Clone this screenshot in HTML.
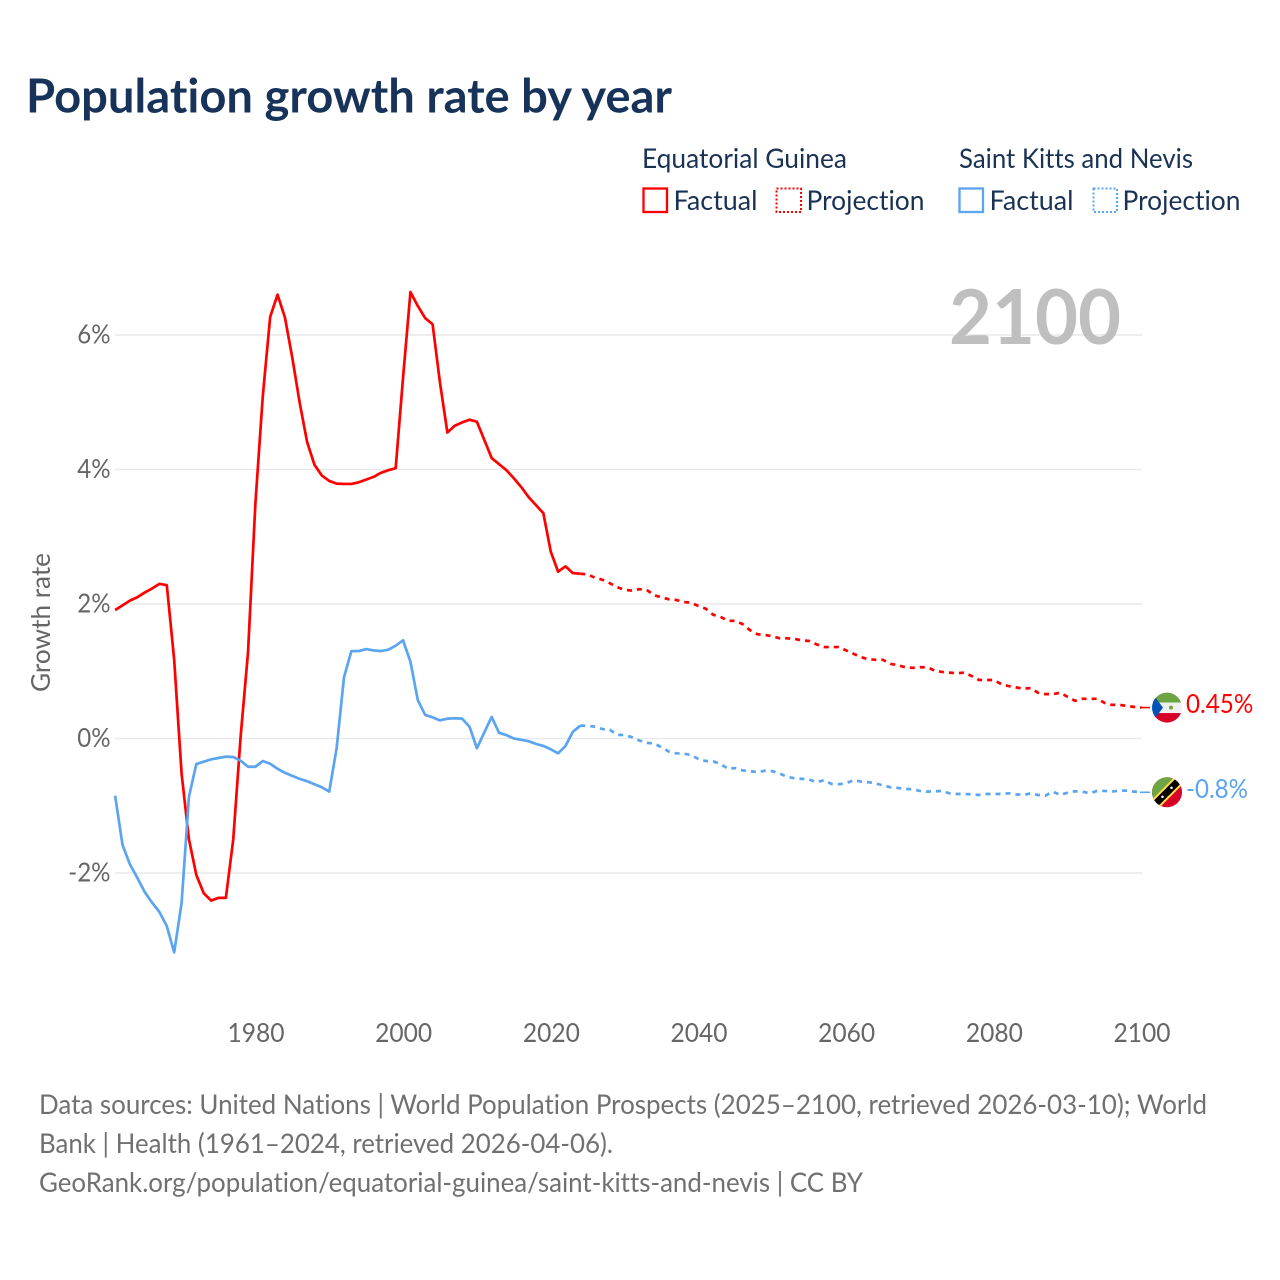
<!DOCTYPE html>
<html lang="en">
<head>
<meta charset="utf-8">
<title>Population growth rate by year</title>
<style>
html,body{margin:0;padding:0;background:#fff;}
svg{display:block;}
text{font-family:"Lato","Carlito","Liberation Sans",sans-serif;font-variant-ligatures:none;font-feature-settings:"liga" 0,"clig" 0;}
</style>
</head>
<body>
<svg id="chart" xmlns="http://www.w3.org/2000/svg" width="1280" height="1280" viewBox="0 0 1280 1280">
  <rect width="1280" height="1280" fill="#fff"/>
  <text x="26" y="112.5" font-size="47" font-weight="700" fill="#17335a" textLength="646" lengthAdjust="spacingAndGlyphs">Population growth rate by year</text>

  <g font-size="27" fill="#1a3355">
    <text x="642" y="168" textLength="205" lengthAdjust="spacingAndGlyphs">Equatorial Guinea</text>
    <text x="959" y="168" textLength="234" lengthAdjust="spacingAndGlyphs">Saint Kitts and Nevis</text>
    <rect x="643.5" y="188.5" width="23.5" height="23.5" fill="none" stroke="#ff0000" stroke-width="2.3"/>
    <text x="673.5" y="210" textLength="84" lengthAdjust="spacingAndGlyphs">Factual</text>
    <rect x="776.5" y="188.5" width="24.5" height="23.5" fill="none" stroke="#ff0000" stroke-width="2" stroke-dasharray="2 2"/>
    <text x="806.5" y="210" textLength="118" lengthAdjust="spacingAndGlyphs">Projection</text>
    <rect x="959.5" y="188.5" width="23.5" height="23.5" fill="none" stroke="#5ba4ef" stroke-width="2.3"/>
    <text x="989.5" y="210" textLength="84" lengthAdjust="spacingAndGlyphs">Factual</text>
    <rect x="1093.5" y="188.5" width="23.5" height="23.5" fill="none" stroke="#5ba4ef" stroke-width="2" stroke-dasharray="2 2"/>
    <text x="1122.5" y="210" textLength="118" lengthAdjust="spacingAndGlyphs">Projection</text>
  </g>

  <g id="grid"></g>
  <text x="949" y="344" font-size="76" font-weight="700" fill="#bfbfbf" textLength="172" lengthAdjust="spacingAndGlyphs">2100</text>
  <text transform="translate(50 692) rotate(-90)" font-size="26" fill="#666" textLength="139" lengthAdjust="spacingAndGlyphs">Growth rate</text>
  <g id="yticks"></g>
  <g id="xticks"></g>
  <g id="series"></g>

  <defs>
    <clipPath id="flag-clip"><circle cx="0" cy="0" r="15"/></clipPath>
  </defs>
  <g id="flag-eg" clip-path="url(#flag-clip)">
    <rect x="-16" y="-16" width="32" height="11" fill="#6da544"/>
    <rect x="-16" y="-5" width="32" height="10.5" fill="#f0f0f0"/>
    <rect x="-16" y="5.5" width="32" height="11" fill="#d80027"/>
    <polygon points="-16,-16 -4,0 -16,16" fill="#0052b4"/>
    <circle cx="4" cy="0" r="2" fill="#6da544"/>
  </g>
  <g id="flag-skn" clip-path="url(#flag-clip)">
    <rect x="-16" y="-16" width="32" height="32" fill="#d80027"/>
    <polygon points="-16,-16 16,-16 -16,16" fill="#6da544"/>
    <line x1="-13" y1="13" x2="13" y2="-13" stroke="#ffda44" stroke-width="11"/>
    <line x1="-13" y1="13" x2="13" y2="-13" stroke="#000" stroke-width="7"/>
    <circle cx="-4.5" cy="4.5" r="1.3" fill="#f0f0f0"/>
    <circle cx="4.5" cy="-4.5" r="1.3" fill="#f0f0f0"/>
  </g>
  <g id="endlabels"></g>

  <g font-size="27" fill="#707070">
    <text x="39" y="1114" textLength="1168" lengthAdjust="spacingAndGlyphs">Data sources: United Nations | World Population Prospects (2025–2100, retrieved 2026-03-10); World</text>
    <text x="39" y="1153" textLength="574" lengthAdjust="spacingAndGlyphs">Bank | Health (1961–2024, retrieved 2026-04-06).</text>
    <text x="39" y="1192" textLength="824" lengthAdjust="spacingAndGlyphs">GeoRank.org/population/equatorial-guinea/saint-kitts-and-nevis | CC BY</text>
  </g>
</svg>
<script>
const factualStartYear = 1961;
const projectionStartYear = 2025;
const xTickYears = [1980, 2000, 2020, 2040, 2060, 2080, 2100];
const yTickValues = [-2, 0, 2, 4, 6];
const yTickLabels = ["-2%", "0%", "2%", "4%", "6%"];
const egEndLabel = "0.45%";
const sknEndLabel = "-0.8%";

const egFactual = [1.91,1.98,2.05,2.10,2.17,2.23,2.30,2.28,1.17,-0.52,-1.50,-2.03,-2.30,-2.41,-2.37,-2.37,
  -1.50,0.03,1.28,3.50,5.09,6.27,6.60,6.26,5.66,4.99,4.41,4.07,3.91,3.83,3.79,3.785,3.785,3.81,3.85,3.89,3.95,3.99,4.02,
  5.37,6.64,6.43,6.25,6.16,5.29,4.55,4.65,4.70,4.74,4.71,4.44,4.17,4.08,3.99,3.87,3.74,3.59,3.47,3.35,2.78,2.48,2.56,2.46,2.45];

const egProjection = [2.44,2.39,2.36,2.31,2.25,2.21,2.20,2.22,2.21,2.13,2.10,2.07,2.06,2.03,2.02,1.97,1.93,1.84,1.81,1.75,
  1.75,1.70,1.61,1.55,1.54,1.52,1.49,1.49,1.48,1.46,1.45,1.40,1.36,1.36,1.36,1.31,1.26,1.21,1.18,1.17,
  1.17,1.11,1.09,1.06,1.05,1.06,1.06,1.01,0.99,0.98,0.97,0.98,0.93,0.87,0.87,0.87,0.81,0.78,0.76,0.74,
  0.75,0.68,0.66,0.66,0.68,0.62,0.56,0.59,0.59,0.59,0.53,0.50,0.50,0.485,0.47,0.46];

const sknFactual = [-0.85,-1.58,-1.87,-2.07,-2.28,-2.44,-2.58,-2.79,-3.18,-2.45,-0.865,-0.38,-0.345,-0.31,-0.29,-0.27,
  -0.275,-0.33,-0.42,-0.42,-0.335,-0.375,-0.45,-0.51,-0.555,-0.60,-0.635,-0.68,-0.725,-0.79,-0.145,0.91,1.30,1.30,1.33,1.31,1.30,1.32,1.38,
  1.46,1.14,0.57,0.35,0.315,0.27,0.295,0.30,0.295,0.175,-0.145,0.09,0.32,0.085,0.05,0.00,-0.02,-0.04,-0.08,-0.11,-0.16,-0.22,-0.11,0.10,0.19];

const sknProjection = [0.19,0.175,0.14,0.13,0.055,0.05,0.02,-0.03,-0.065,-0.075,-0.13,-0.195,-0.22,-0.225,-0.245,-0.305,-0.335,-0.34,-0.38,-0.45,
  -0.44,-0.475,-0.485,-0.50,-0.48,-0.485,-0.52,-0.57,-0.59,-0.60,-0.61,-0.65,-0.62,-0.675,-0.68,-0.665,-0.62,-0.64,-0.65,-0.665,
  -0.70,-0.725,-0.735,-0.75,-0.755,-0.78,-0.79,-0.785,-0.78,-0.815,-0.825,-0.825,-0.83,-0.84,-0.825,-0.825,-0.825,-0.815,-0.83,-0.84,
  -0.815,-0.84,-0.85,-0.79,-0.84,-0.805,-0.785,-0.79,-0.815,-0.78,-0.78,-0.79,-0.775,-0.775,-0.79,-0.80];

const SVG_NS = "http://www.w3.org/2000/svg";
const RED = "#ff0000";
const BLUE = "#5ba4ef";
const LINE_SHIFT = -0.6;

function xAxis(year) { return 256 + (year - 1980) * (1142 - 256) / 120; }
function xLine(year) { return xAxis(year) + LINE_SHIFT; }
function yAxis(value) { return 738.5 - value * 67.25; }
function labelWidth(s) {
  let w = 0;
  for (const c of s) {
    if (c === "%") w += 19;
    else if (c === "-") w += 9;
    else if (c === ".") w += 5.5;
    else w += 14.25;
  }
  return w;
}
function linePath(values, startYear, prefix) {
  let d = prefix || "";
  values.forEach(function (v, i) {
    d += (d ? "L" : "M") + xLine(startYear + i).toFixed(2) + " " + yAxis(v).toFixed(2);
  });
  return d;
}

const gridGroup = document.getElementById("grid");
const yTickGroup = document.getElementById("yticks");
yTickValues.forEach(function (v, i) {
  const line = document.createElementNS(SVG_NS, "line");
  
  
  line.setAttribute("x1", xLine(factualStartYear));
  line.setAttribute("x2", xAxis(2100));
  line.setAttribute("y1", yAxis(v));
  line.setAttribute("y2", yAxis(v));
  line.setAttribute("stroke", "#e9e9e9");
  line.setAttribute("stroke-width", "1.4");
  gridGroup.appendChild(line);

  const t = document.createElementNS(SVG_NS, "text");
  
  
  t.setAttribute("x", 110.5);
  t.setAttribute("y", yAxis(v) + 8.5);
  t.setAttribute("text-anchor", "end");
  t.setAttribute("font-size", "26");
  t.setAttribute("fill", "#666");
  t.setAttribute("textLength", labelWidth(yTickLabels[i]));
  t.setAttribute("lengthAdjust", "spacingAndGlyphs");
  t.textContent = yTickLabels[i];
  yTickGroup.appendChild(t);
});

const xTickGroup = document.getElementById("xticks");
xTickYears.forEach(function (year) {
  const t = document.createElementNS(SVG_NS, "text");
  
  
  t.setAttribute("x", xAxis(year));
  t.setAttribute("y", 1042);
  t.setAttribute("text-anchor", "middle");
  t.setAttribute("font-size", "26");
  t.setAttribute("fill", "#666");
  t.setAttribute("textLength", labelWidth(String(year)));
  t.setAttribute("lengthAdjust", "spacingAndGlyphs");
  t.textContent = String(year);
  xTickGroup.appendChild(t);
});

const seriesGroup = document.getElementById("series");

const egFactualLine = document.createElementNS(SVG_NS, "path");


egFactualLine.setAttribute("d", linePath(egFactual, factualStartYear));
egFactualLine.setAttribute("fill", "none");
egFactualLine.setAttribute("stroke", RED);
egFactualLine.setAttribute("stroke-width", "2.7");
egFactualLine.setAttribute("stroke-linejoin", "round");
seriesGroup.appendChild(egFactualLine);

const sknFactualLine = document.createElementNS(SVG_NS, "path");


sknFactualLine.setAttribute("d", linePath(sknFactual, factualStartYear));
sknFactualLine.setAttribute("fill", "none");
sknFactualLine.setAttribute("stroke", BLUE);
sknFactualLine.setAttribute("stroke-width", "2.7");
sknFactualLine.setAttribute("stroke-linejoin", "round");
seriesGroup.appendChild(sknFactualLine);

const egLast = egFactual[egFactual.length - 1];
const sknLast = sknFactual[sknFactual.length - 1];
const egStart = "M" + xLine(projectionStartYear - 1) + " " + yAxis(egLast);
const sknStart = "M" + xLine(projectionStartYear - 1) + " " + yAxis(sknLast);

const egProjectionLine = document.createElementNS(SVG_NS, "path");


egProjectionLine.setAttribute("d", linePath(egProjection, projectionStartYear, egStart));
egProjectionLine.setAttribute("fill", "none");
egProjectionLine.setAttribute("stroke", RED);
egProjectionLine.setAttribute("stroke-width", "2.7");
egProjectionLine.setAttribute("stroke-dasharray", "5 5");
seriesGroup.appendChild(egProjectionLine);

const sknProjectionLine = document.createElementNS(SVG_NS, "path");


sknProjectionLine.setAttribute("d", linePath(sknProjection, projectionStartYear, sknStart));
sknProjectionLine.setAttribute("fill", "none");
sknProjectionLine.setAttribute("stroke", BLUE);
sknProjectionLine.setAttribute("stroke-width", "2.7");
sknProjectionLine.setAttribute("stroke-dasharray", "5 5");
seriesGroup.appendChild(sknProjectionLine);

const egEndY = yAxis(egProjection[egProjection.length - 1]);
const sknEndY = yAxis(sknProjection[sknProjection.length - 1]);

const egConnector = document.createElementNS(SVG_NS, "line");


egConnector.setAttribute("x1", xAxis(2100) - 2);
egConnector.setAttribute("x2", xAxis(2100) + 8);
egConnector.setAttribute("y1", egEndY);
egConnector.setAttribute("y2", egEndY);
egConnector.setAttribute("stroke", RED);
egConnector.setAttribute("stroke-width", "1.6");
seriesGroup.appendChild(egConnector);

const sknConnector = document.createElementNS(SVG_NS, "line");


sknConnector.setAttribute("x1", xAxis(2100) - 2);
sknConnector.setAttribute("x2", xAxis(2100) + 8);
sknConnector.setAttribute("y1", sknEndY);
sknConnector.setAttribute("y2", sknEndY);
sknConnector.setAttribute("stroke", BLUE);
sknConnector.setAttribute("stroke-width", "1.6");
seriesGroup.appendChild(sknConnector);

document.getElementById("flag-eg").setAttribute("transform", "translate(" + (xAxis(2100) + 25) + " " + egEndY + ")");
document.getElementById("flag-skn").setAttribute("transform", "translate(" + (xAxis(2100) + 25) + " " + sknEndY + ")");

const endGroup = document.getElementById("endlabels");

const egLabel = document.createElementNS(SVG_NS, "text");


egLabel.setAttribute("x", xAxis(2100) + 44);
egLabel.setAttribute("y", egEndY + 5.5);
egLabel.setAttribute("font-size", "26");
egLabel.setAttribute("fill", RED);
egLabel.setAttribute("textLength", labelWidth(egEndLabel));
egLabel.setAttribute("lengthAdjust", "spacingAndGlyphs");
egLabel.textContent = egEndLabel;
endGroup.appendChild(egLabel);

const sknLabel = document.createElementNS(SVG_NS, "text");


sknLabel.setAttribute("x", xAxis(2100) + 44);
sknLabel.setAttribute("y", sknEndY + 5.5);
sknLabel.setAttribute("font-size", "26");
sknLabel.setAttribute("fill", BLUE);
sknLabel.setAttribute("textLength", labelWidth(sknEndLabel));
sknLabel.setAttribute("lengthAdjust", "spacingAndGlyphs");
sknLabel.textContent = sknEndLabel;
endGroup.appendChild(sknLabel);
</script>
</body>
</html>
